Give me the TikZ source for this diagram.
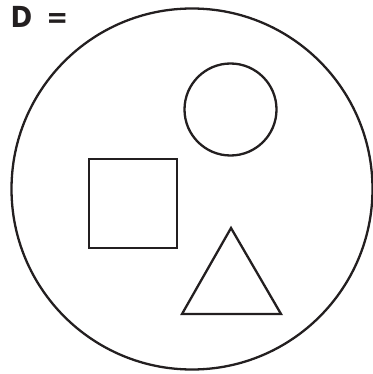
\documentclass[tikz,border=0pt]{standalone}
\usepackage{fontspec}
\newfontfamily\labelfont{DejaVu Sans Condensed}
\definecolor{ink}{HTML}{231F20}
\newcommand{\FD}{\labelfont\fontsize{29}{34}\selectfont\bfseries}

\begin{document}
\begin{tikzpicture}[x=1pt,y=-1pt]
\tikzstyle{texto}=[draw=none,fill=none,ink,font=\FD,inner sep=0pt]
\tikzstyle{line}=[ink,line width=2.3pt]

\useasboundingbox (0,0) rectangle (372,374);

\draw[line] (192,189) circle (180.5);
\draw[line] (230.5,109.5) circle (46);
\draw[line] (89,159) rectangle (177,248);
\draw[line,line join=miter] (231,228) -- (281,314) -- (182,314) -- cycle;

\node[texto,anchor=base west] (lbl) at (10.5,28) {D \kern5pt=};
\end{tikzpicture}
\end{document}
